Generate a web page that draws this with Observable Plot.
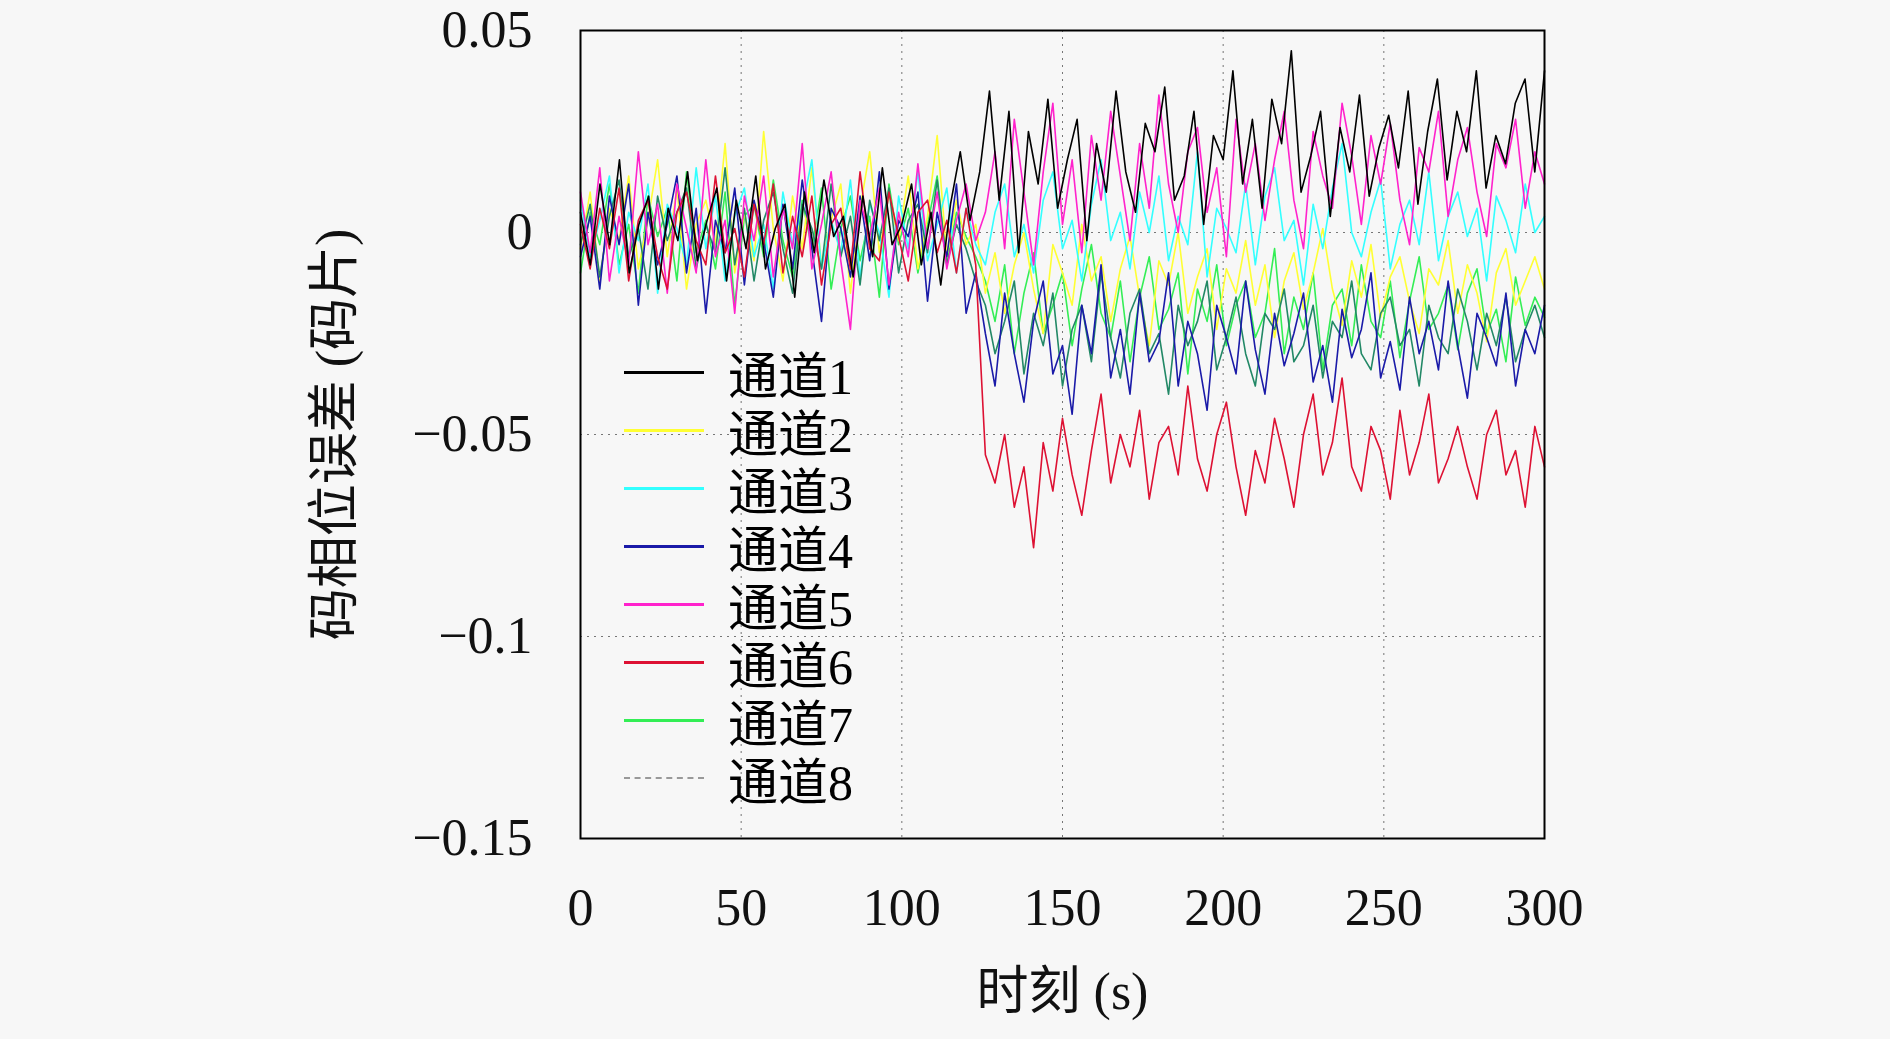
<!DOCTYPE html>
<html><head><meta charset="utf-8">
<script src="https://cdn.jsdelivr.net/npm/d3@7"></script>
<script src="https://cdn.jsdelivr.net/npm/@observablehq/plot@0.6"></script>
<style>
body{margin:0;background:#f7f7f7;}
#wrap{position:relative;width:1890px;height:1039px;}
#legend{position:absolute;left:624px;top:343px;font-family:"Liberation Serif","DejaVu Serif","Noto Sans CJK SC",serif;font-size:50px;}
.row{height:58px;display:flex;align-items:center;}
.sw{width:80px;height:0;border-top:3px solid #000;margin-right:24px;}
</style></head><body>
<div id="wrap"><div id="legend"></div></div>
<script>
// values in units of 0.001 chip, sampled evenly over 0..300 s
const names = ["通道1","通道2","通道3","通道4","通道5","通道6","通道7","通道8"];
const colors = ["#000000","#ffff33","#33ffff","#1a1aa8","#ff22cc","#dd1133","#33ee55","#228866"];
const ch1 = [5,-8,12,-3,18,-10,2,9,-14,6,-2,15,-7,3,11,-12,8,-4,14,-9,1,7,-16,10,-5,13,-1,4,-11,9,-6,16,-3,2,12,-8,5,-13,7,20,3,15,35,8,30,-5,25,12,33,6,18,28,-2,22,10,35,15,5,27,20,36,8,14,30,2,24,18,40,12,28,6,33,22,45,10,19,30,4,26,15,34,9,21,29,16,35,7,25,38,13,30,20,40,11,24,17,32,38,15,40];
const ch2 = [-4,10,-12,6,-2,14,-9,3,18,-6,11,-14,2,8,-3,22,-10,5,-7,25,1,-12,9,-4,16,-8,3,12,-15,6,20,-5,10,-2,14,-9,4,24,-6,8,-3,2,-15,-5,-20,-8,0,-14,-25,-3,-10,-18,2,-12,-6,-22,-9,-1,-16,-28,-7,-13,0,-20,-11,-4,-24,-9,-15,-2,-18,-8,-26,-12,-5,-19,-10,1,-14,-23,-7,-16,-3,-21,-11,-6,-17,-25,-9,-13,-2,-20,-8,-15,-27,-10,-4,-18,-12,-6,-14];
const ch3 = [8,-6,3,14,-10,5,-2,12,-15,7,1,-8,16,-4,9,-12,4,11,-6,2,-14,10,-3,6,18,-9,3,-5,13,-11,7,0,-16,9,-4,15,-7,2,11,-10,6,-3,-8,5,12,-6,2,-10,8,15,-4,3,-12,7,18,-2,5,-9,10,0,14,-7,4,-3,20,-11,6,1,-5,12,-8,9,16,-2,3,-13,7,-4,11,22,0,-6,5,13,-9,2,8,-3,15,-7,4,10,-1,6,-12,9,3,-5,12,0,4];
const ch4 = [-6,4,-14,9,-3,12,-18,5,-8,2,14,-10,6,-20,3,-5,11,-13,8,-2,-16,7,-9,13,-4,-22,6,1,-11,9,-7,15,-14,3,-1,10,-17,5,-6,12,-20,-10,-25,-38,-15,-30,-42,-22,-12,-35,-28,-45,-18,-30,-8,-36,-24,-40,-15,-32,-27,-10,-38,-22,-30,-44,-18,-26,-35,-12,-29,-40,-20,-33,-25,-15,-37,-28,-42,-19,-31,-24,-10,-36,-27,-39,-16,-30,-22,-34,-12,-28,-41,-20,-26,-33,-15,-38,-24,-30,-18];
const ch5 = [10,-5,16,-12,4,-8,20,-3,7,-15,12,1,-10,18,-6,3,-20,9,-2,14,-11,6,-4,22,-9,2,15,-7,-24,8,-1,11,-13,5,-6,17,-4,10,-9,3,12,-2,5,20,-4,28,10,-8,15,32,2,18,-5,24,8,30,14,-2,22,6,34,12,0,20,26,5,16,-6,28,10,22,3,18,30,8,-4,25,14,6,32,19,2,24,12,27,8,-3,21,15,30,4,18,26,10,-1,22,16,28,6,20,12];
const ch6 = [2,-9,6,-4,11,-12,3,8,-6,-14,5,10,-2,-8,14,-5,1,-11,7,-3,12,-10,4,-6,9,-13,2,6,-9,15,-4,-7,10,-1,-12,5,8,-5,3,-10,6,-8,-55,-62,-50,-68,-58,-78,-52,-64,-46,-60,-70,-54,-40,-62,-50,-58,-44,-66,-52,-48,-60,-38,-56,-64,-50,-42,-58,-70,-54,-62,-46,-56,-68,-50,-40,-60,-52,-36,-58,-64,-48,-54,-66,-44,-60,-52,-40,-62,-56,-48,-58,-66,-50,-44,-60,-54,-68,-48,-58];
const ch7 = [-10,5,-3,12,-8,2,-15,9,-1,6,-12,15,-5,3,-9,10,-18,4,7,-6,13,-2,-11,8,-4,11,-14,1,9,-7,4,-16,12,-3,6,-10,2,14,-8,5,-1,-6,-12,-22,-8,-30,-15,-5,-25,-18,-10,-28,-14,-3,-20,-26,-12,-32,-16,-6,-24,-19,-10,-35,-14,-22,-8,-28,-18,-12,-26,-20,-4,-30,-16,-24,-10,-34,-18,-14,-28,-8,-22,-26,-12,-31,-17,-6,-24,-20,-13,-29,-15,-9,-25,-19,-32,-11,-23,-16,-21];
const ch8 = [-3,7,-11,4,13,-6,1,-14,9,-2,5,11,-9,2,-5,16,-8,6,-12,3,10,-4,-15,7,1,-9,12,-6,4,-13,8,-2,11,-10,3,7,-5,13,-8,2,-4,-12,-18,-30,-22,-12,-35,-20,-28,-15,-38,-24,-18,-32,-10,-26,-36,-20,-14,-30,-25,-40,-18,-28,-22,-12,-34,-26,-16,-30,-38,-20,-24,-14,-32,-28,-18,-36,-22,-26,-12,-30,-34,-20,-16,-28,-24,-38,-18,-26,-30,-14,-22,-34,-20,-28,-16,-32,-24,-18,-26];
const series = [ch1,ch2,ch3,ch4,ch5,ch6,ch7,ch8];
const xTicks = [0,50,100,150,200,250,300];
const yTicks = [0.05,0,-0.05,-0.1,-0.15];

const rows = series.flatMap((s,k)=>s.map((v,i)=>({t:i*300/(s.length-1), v:v/1000, ch:names[k]})));
const drawOrder = [6,1,2,7,3,4,5,0];
const font = `"Liberation Serif","DejaVu Serif","Noto Sans CJK SC",serif`;
const fmt = d => d===0 ? "0" : String(d).replace("-","−");
const chart = Plot.plot({
  width:1890, height:1039,
  marginLeft:580, marginRight:346, marginTop:30, marginBottom:201,
  style:{background:"#f7f7f7", fontFamily:font, fontSize:"52px", color:"#111"},
  x:{domain:[0,300], ticks:xTicks, tickSize:0, tickPadding:50, tickFormat:fmt, label:"时刻 (s)", labelAnchor:"center", labelArrow:"none", labelOffset:170},
  y:{domain:[-0.15,0.05], ticks:yTicks, tickSize:0, tickPadding:48, tickFormat:fmt, label:"码相位误差 (码片)", labelAnchor:"center", labelArrow:"none", labelOffset:265},
  marks:[
    Plot.gridX(xTicks,{stroke:"#555", strokeOpacity:0.8, strokeDasharray:"2,5"}),
    Plot.gridY(yTicks,{stroke:"#555", strokeOpacity:0.8, strokeDasharray:"2,5"}),
    ...drawOrder.map(k=>Plot.line(rows.filter(d=>d.ch===names[k]),{x:"t",y:"v",stroke:colors[k],strokeWidth:1.6})),
    Plot.frame({stroke:"#000", strokeWidth:2})
  ]
});
document.getElementById("wrap").prepend(chart);
const lg = document.getElementById("legend");
names.forEach((n,k)=>{
  const r=document.createElement("div");r.className="row";
  r.innerHTML=`<div class="sw" style="border-top:${k===7?"2px dashed #999":"3px solid "+colors[k]}"></div><span>${n}</span>`;
  lg.appendChild(r);
});
</script></body></html>
